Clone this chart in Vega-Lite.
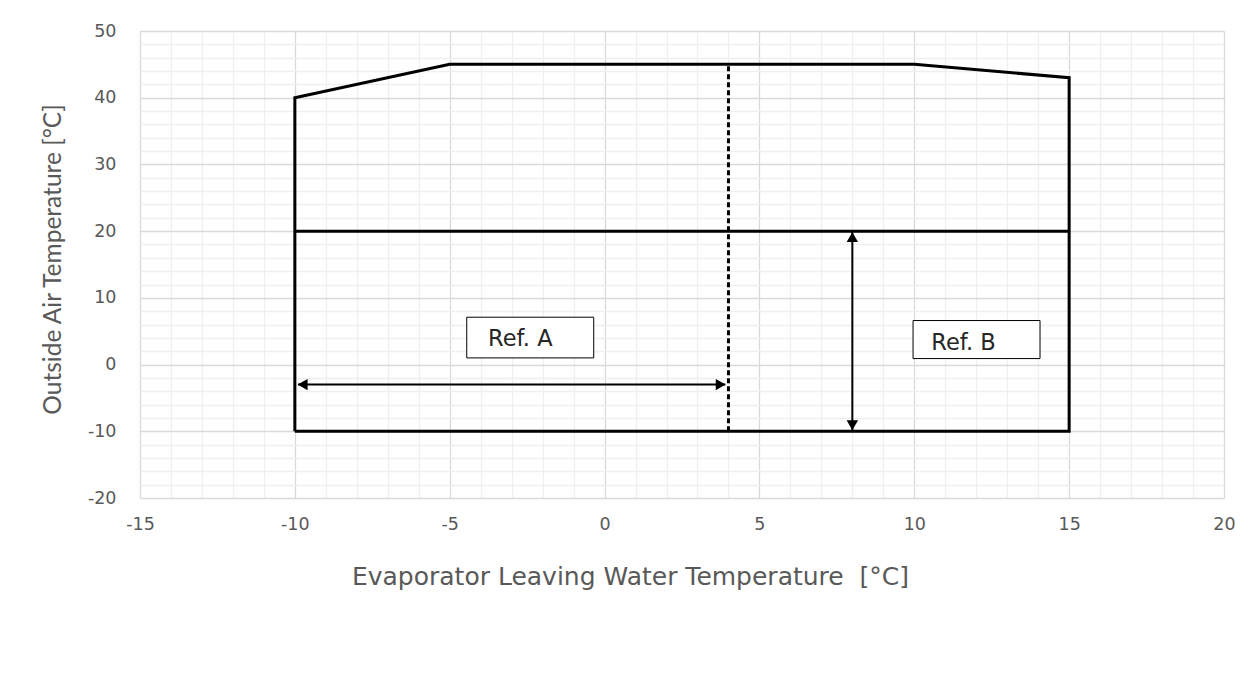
{
  "$schema": "https://vega.github.io/schema/vega-lite/v6.json",
  "width": 1084,
  "height": 467,
  "autosize": {"type": "none"},
  "padding": {"left": 140, "top": 31, "right": 36, "bottom": 195},
  "background": "white",
  "config": {
    "view": {"stroke": null},
    "font": "DejaVu Sans"
  },
  "datasets": {
    "envelope": [
      {"x": -10, "y": -10, "o": 0},
      {"x": -10, "y": 40, "o": 1},
      {"x": -5, "y": 45, "o": 2},
      {"x": 10, "y": 45, "o": 3},
      {"x": 15, "y": 43, "o": 4},
      {"x": 15, "y": -10, "o": 5},
      {"x": -10, "y": -10, "o": 6}
    ],
    "hline": [{"x": -10, "x2": 15, "y": 20}],
    "dashed": [{"x": 4, "y": -10, "y2": 45}],
    "harrow": [{"x": -9.9, "x2": 3.9, "y": -3}],
    "varrow": [{"x": 8, "y": -9.9, "y2": 19.9}],
    "heads": [
      {"x": -9.75, "y": -3, "dir": "left"},
      {"x": 3.75, "y": -3, "dir": "right"},
      {"x": 8, "y": 19.1, "dir": "up"},
      {"x": 8, "y": -9.1, "dir": "down"}
    ],
    "boxes": [
      {"x": -4.45, "x2": -0.35, "y": 7.1, "y2": 1.0, "tx": -3.76, "ty": 3.76, "label": "Ref. A"},
      {"x": 9.96, "x2": 14.06, "y": 6.6, "y2": 0.9, "tx": 10.55, "ty": 3.23, "label": "Ref. B"}
    ]
  },
  "encoding": {
    "x": {
      "field": "x",
      "type": "quantitative",
      "scale": {"domain": [-15, 20], "nice": false, "zero": false},
      "axis": {
        "title": "Evaporator Leaving Water Temperature\u00a0 [°C]",
        "values": [-15,-14,-13,-12,-11,-10,-9,-8,-7,-6,-5,-4,-3,-2,-1,0,1,2,3,4,5,6,7,8,9,10,11,12,13,14,15,16,17,18,19,20],
        "labelExpr": "datum.value % 5 === 0 ? '' + datum.value : ''",
        "gridColor": {"condition": {"test": "datum.value % 5 === 0", "value": "#d9d9d9"}, "value": "#efefef"},
        "gridWidth": 1.3,
        "ticks": false,
        "tickSize": 0,
        "domain": false,
        "labelFont": "DejaVu Sans",
        "labelFontSize": 17.5,
        "labelColor": "#595959",
        "labelPadding": 17,
        "labelFlush": false,
        "labelOverlap": false,
        "titleFont": "DejaVu Sans",
        "titleFontSize": 25,
        "titleFontWeight": "normal",
        "titleColor": "#595959",
        "titleX": 490,
        "titleY": 78,
        "titleBaseline": "middle",
        "titleAnchor": "middle"
      }
    },
    "y": {
      "field": "y",
      "type": "quantitative",
      "scale": {"domain": [-20, 50], "nice": false, "zero": false},
      "axis": {
        "title": "Outside Air Temperature [°C]",
        "values": [-20,-18,-16,-14,-12,-10,-8,-6,-4,-2,0,2,4,6,8,10,12,14,16,18,20,22,24,26,28,30,32,34,36,38,40,42,44,46,48,50],
        "labelExpr": "datum.value % 10 === 0 ? '' + datum.value : ''",
        "gridColor": {"condition": {"test": "datum.value % 10 === 0", "value": "#d9d9d9"}, "value": "#efefef"},
        "gridWidth": 1.3,
        "ticks": false,
        "tickSize": 0,
        "domain": false,
        "labelFont": "DejaVu Sans",
        "labelFontSize": 17.5,
        "labelColor": "#595959",
        "labelPadding": 24,
        "labelFlush": false,
        "labelOverlap": false,
        "titleFont": "Lato",
        "titleFontSize": 24.5,
        "titleFontWeight": "normal",
        "titleColor": "#595959",
        "titleX": -87,
        "titleY": 228,
        "titleAngle": -90,
        "titleBaseline": "middle",
        "titleAnchor": "middle"
      }
    }
  },
  "layer": [
    {
      "data": {"name": "envelope"},
      "mark": {"type": "line", "color": "black", "strokeWidth": 3, "strokeJoin": "miter"},
      "encoding": {"order": {"field": "o", "type": "quantitative"}}
    },
    {
      "data": {"name": "hline"},
      "mark": {"type": "rule", "color": "black", "strokeWidth": 3},
      "encoding": {"x2": {"field": "x2"}}
    },
    {
      "data": {"name": "dashed"},
      "mark": {"type": "rule", "color": "black", "strokeWidth": 3, "strokeDash": [5, 3]},
      "encoding": {"y2": {"field": "y2"}}
    },
    {
      "data": {"name": "harrow"},
      "mark": {"type": "rule", "color": "black", "strokeWidth": 2},
      "encoding": {"x2": {"field": "x2"}}
    },
    {
      "data": {"name": "varrow"},
      "mark": {"type": "rule", "color": "black", "strokeWidth": 2},
      "encoding": {"y2": {"field": "y2"}}
    },
    {
      "data": {"name": "heads"},
      "mark": {"type": "point", "filled": true, "color": "black", "opacity": 1, "size": 130},
      "encoding": {
        "shape": {
          "field": "dir",
          "type": "nominal",
          "scale": {"domain": ["left", "right", "up", "down"], "range": ["triangle-left", "triangle-right", "triangle-up", "triangle-down"]},
          "legend": null
        }
      }
    },
    {
      "data": {"name": "boxes"},
      "mark": {"type": "rect", "fill": "white", "stroke": "black", "strokeWidth": 1},
      "encoding": {"x2": {"field": "x2"}, "y2": {"field": "y2"}}
    },
    {
      "data": {"name": "boxes"},
      "mark": {"type": "text", "align": "left", "baseline": "middle", "font": "DejaVu Sans", "fontSize": 22.5, "color": "#262626"},
      "encoding": {
        "x": {"field": "tx", "type": "quantitative"},
        "y": {"field": "ty", "type": "quantitative"},
        "text": {"field": "label"}
      }
    }
  ]
}
